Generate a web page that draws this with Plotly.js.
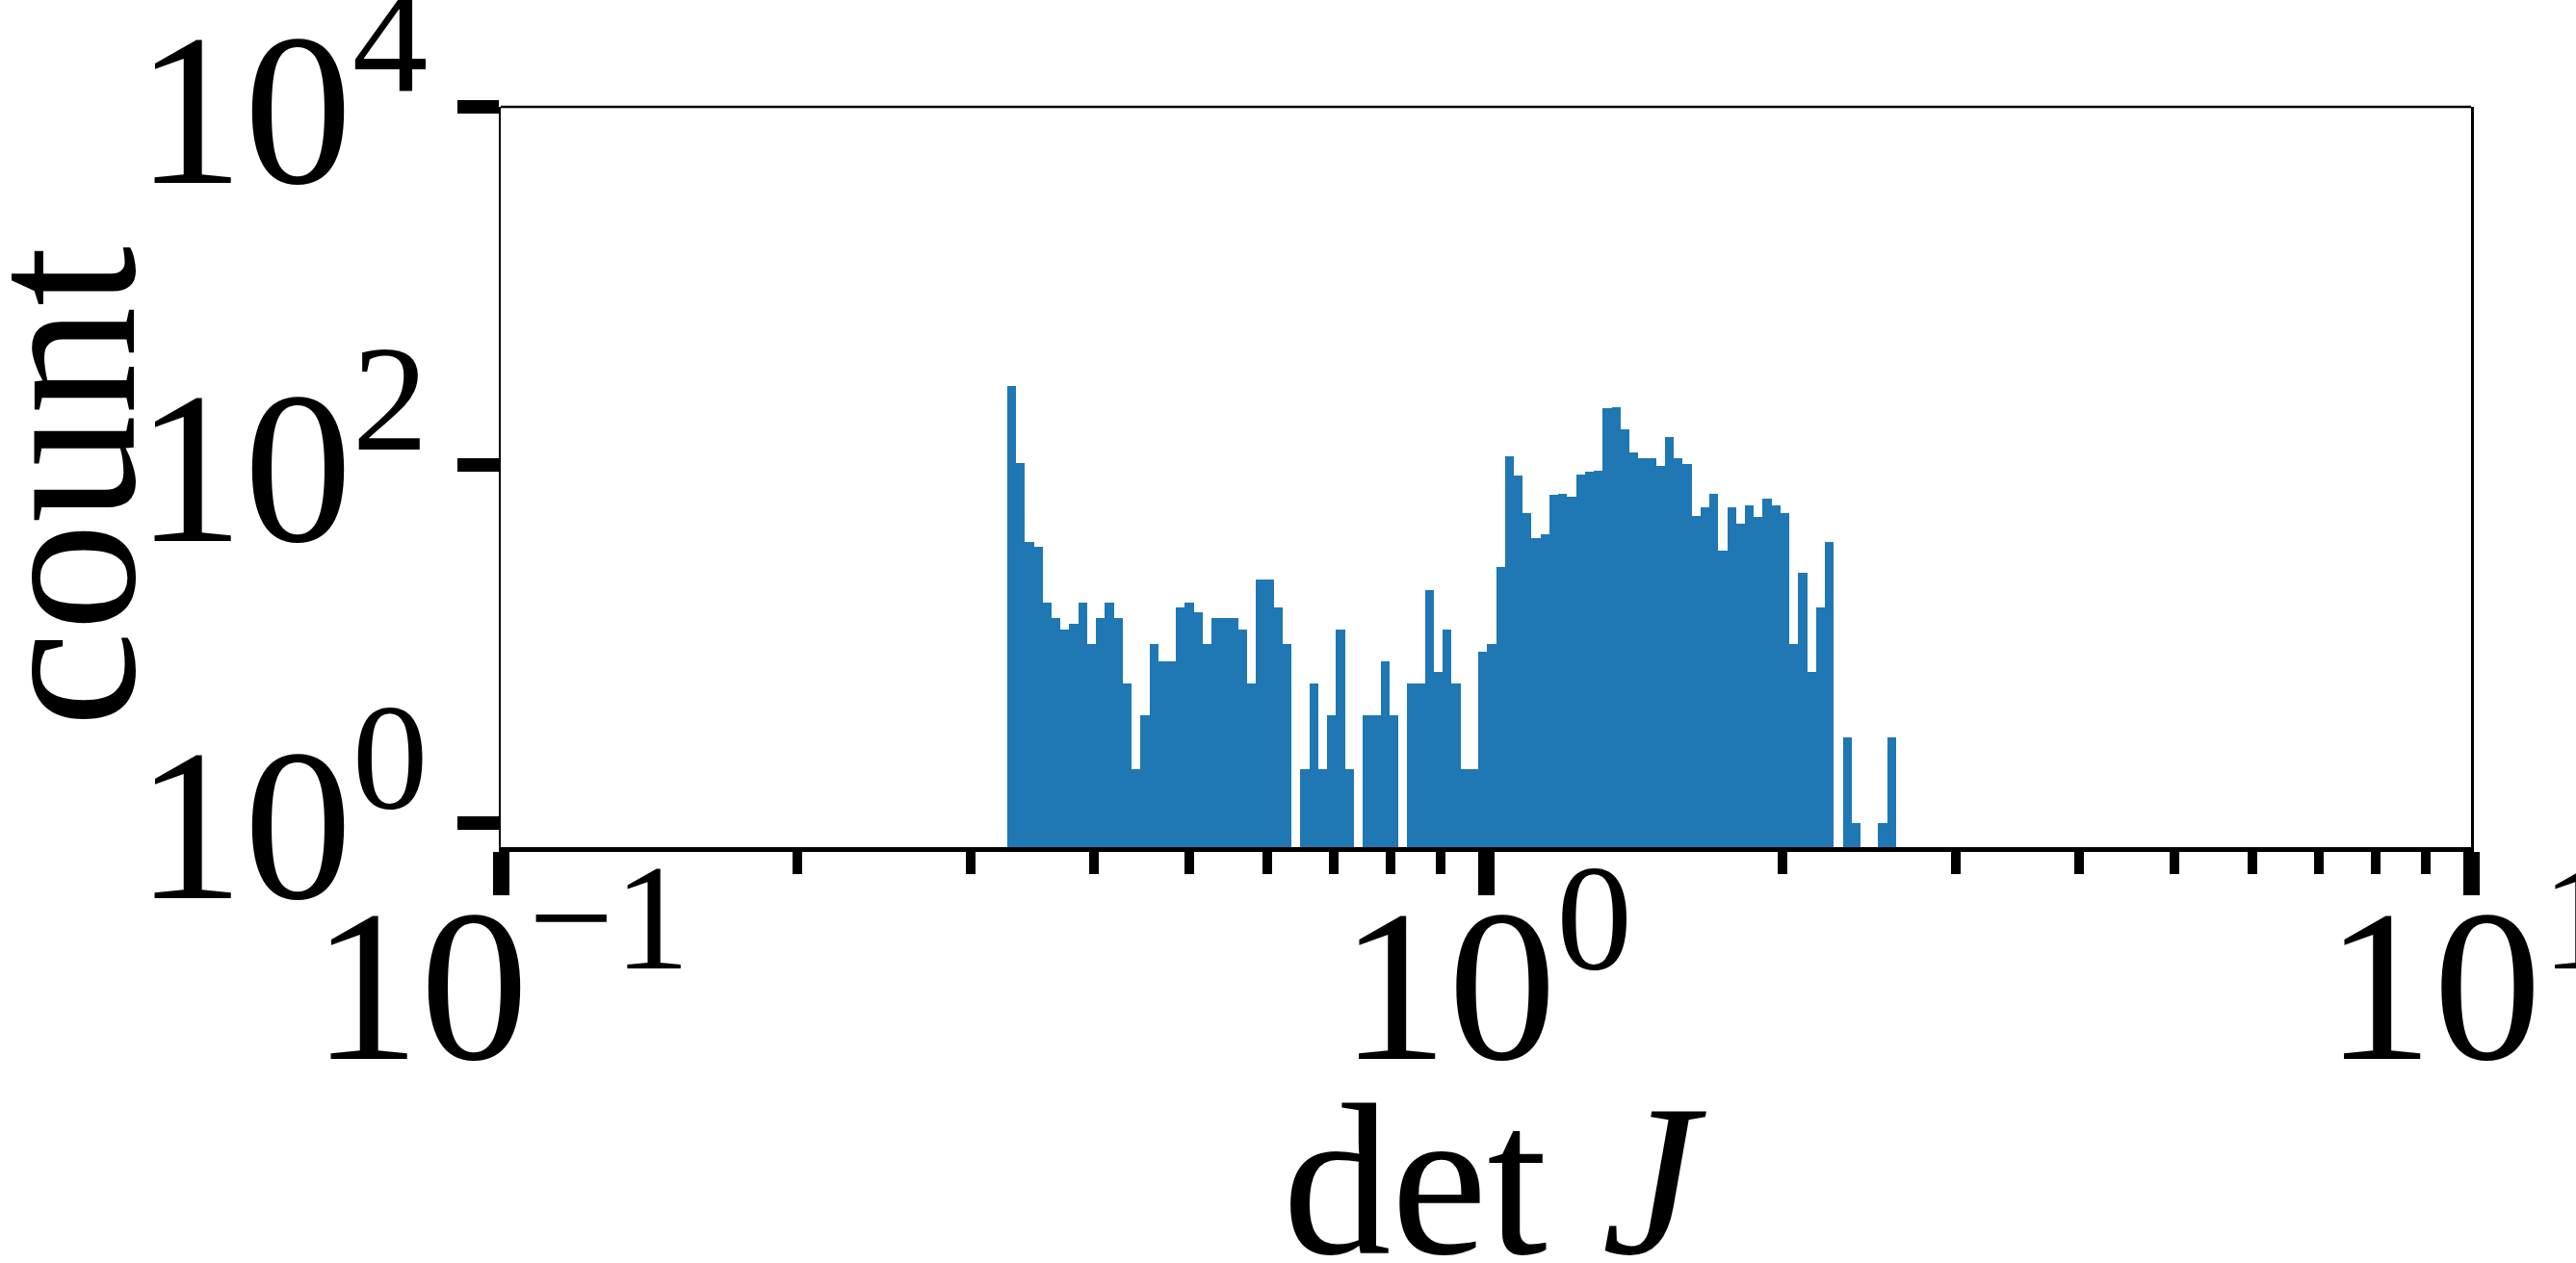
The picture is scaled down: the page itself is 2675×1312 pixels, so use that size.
<!DOCTYPE html>
<html>
<head>
<meta charset="utf-8">
<script src="https://cdn.plot.ly/plotly-3.0.1.min.js"></script>
<style>
  html, body { margin: 0; padding: 0; background: #fff; }
  #hist-chart { width: 2675px; height: 1312px; }
</style>
</head>
<body>
<div id="hist-chart"></div>
<script>
// histogram of det J, 100 log-spaced bins between binLo and binHi
const binLo = 0.3266;
const binHi = 2.608;
const counts = [
  275, 102, 37, 35, 17, 14, 12, 13, 17, 10,
  14, 17, 14, 6, 2, 4, 10, 8, 8, 16,
  17, 15, 10, 14, 14, 14, 12, 6, 23, 23,
  16, 10, 0, 2, 6, 2, 4, 12, 2, 0,
  4, 4, 8, 4, 0, 6, 6, 20, 7, 12,
  6, 2, 2, 9, 10, 27, 111, 87, 54, 39,
  41, 68, 69, 66, 88, 91, 93, 207, 210, 158,
  117, 109, 109, 98, 143, 109, 101, 52, 58, 69,
  33, 58, 47, 59, 51, 65, 59, 54, 10, 25,
  7, 16, 37, 0, 3, 1, 0, 0, 1, 3
];

const xTickVals = [0.1, 1, 10];
const xTickText = ["10<sup>\u22121</sup>", "10<sup>0</sup>", "10<sup>1</sup>"];
const yTickVals = [1, 100, 10000];
const yTickText = ["10<sup>0</sup>", "10<sup>2</sup>", "10<sup>4</sup>"];
const xTitle = "det <i>J</i>";
const yTitle = "count";

// x is drawn on a linear axis of log10(det J) so the log bins keep equal width
const lo = Math.log10(binLo);
const step = (Math.log10(binHi) - lo) / counts.length;
const centers = counts.map((_, i) => lo + (i + 0.5) * step);

const minorVals = [];
[0.1, 1].forEach(d => {
    for (let k = 2; k <= 9; k++) minorVals.push(Math.log10(d * k));
});

const font = { family: "Liberation Serif, Times New Roman, serif", size: 225, color: "#000" };

const trace = {
    type: "bar",
    x: centers,
    y: counts.map(c => (c > 0 ? c : null)),
    width: step,
    marker: { color: "#1f77b4", line: { width: 0 } },
    hoverinfo: "skip"
};

const layout = {
    width: 2675,
    height: 1312,
    margin: { l: 520, r: 109, t: 111, b: 432 },
    paper_bgcolor: "#fff",
    plot_bgcolor: "#fff",
    font: font,
    showlegend: false,
    bargap: 0,
    xaxis: {
        range: [-1, 1],
        tickmode: "array",
        tickvals: xTickVals.map(v => Math.log10(v)),
        ticktext: xTickText,
        ticks: "outside",
        ticklen: 45,
        tickwidth: 17,
        tickcolor: "#000",
        ticklabelstandoff: -100,
        ticklabeloverflow: "allow",
        showgrid: false,
        zeroline: false,
        showline: true,
        linewidth: 5,
        linecolor: "#000",
        minor: {
            tickvals: minorVals,
            ticks: "outside",
            ticklen: 23,
            tickwidth: 10,
            tickcolor: "#000",
            showgrid: false
        }
    },
    yaxis: {
        type: "log",
        range: [-0.136, 4],
        tickmode: "array",
        tickvals: yTickVals,
        ticktext: yTickText,
        ticks: "outside",
        ticklen: 43,
        tickwidth: 14,
        tickcolor: "#000",
        ticklabelstandoff: -15,
        ticklabeloverflow: "allow",
        showgrid: false,
        zeroline: false,
        showline: true,
        mirror: true,
        linewidth: 2.5,
        linecolor: "#000"
    },
    annotations: [
        {
            text: xTitle, xref: "paper", yref: "paper",
            x: 0.5, y: 0, xanchor: "center", yanchor: "middle",
            xshift: 9, yshift: -346, showarrow: false, font: font
        },
        {
            text: yTitle, xref: "paper", yref: "paper",
            x: 0, y: 0.5, xanchor: "center", yanchor: "middle",
            xshift: -458, yshift: -10, textangle: -90, showarrow: false, font: font
        }
    ],
    shapes: [
        {
            type: "line", xref: "paper", yref: "paper",
            x0: 0, x1: 1, y0: 1, y1: 1,
            line: { color: "#000", width: 2.5 }
        }
    ]
};

Plotly.newPlot("hist-chart", [trace], layout, { displayModeBar: false, staticPlot: true });
</script>
</body>
</html>
